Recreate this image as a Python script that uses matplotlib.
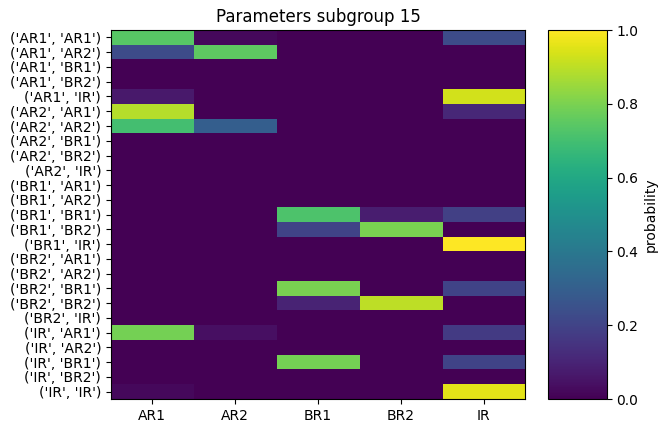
import matplotlib
matplotlib.use('Agg')
import matplotlib.pyplot as plt
import numpy as np

states = ['AR1', 'AR2', 'BR1', 'BR2', 'IR']
row_labels = [str((a, b)) for a in states for b in states]

# probability per row (pair of states) for each next state
AR1 = [0.74, 0.23, 0, 0, 0.07, 0.89, 0.70, 0, 0, 0,
       0, 0, 0, 0, 0, 0, 0, 0, 0, 0,
       0.79, 0, 0, 0, 0.02]
AR2 = [0.02, 0.75, 0, 0, 0, 0, 0.30, 0, 0, 0,
       0, 0, 0, 0, 0, 0, 0, 0, 0, 0,
       0.04, 0, 0, 0, 0]
BR1 = [0, 0, 0, 0, 0, 0, 0, 0, 0, 0,
       0, 0, 0.72, 0.20, 0, 0, 0, 0.80, 0.10, 0,
       0, 0, 0.79, 0, 0]
BR2 = [0, 0, 0, 0, 0, 0, 0, 0, 0, 0,
       0, 0, 0.08, 0.80, 0, 0, 0, 0, 0.90, 0,
       0, 0, 0, 0, 0]
IR = [0.23, 0, 0, 0, 0.93, 0.11, 0, 0, 0, 0,
      0, 0, 0.19, 0, 1.0, 0, 0, 0.20, 0, 0,
      0.17, 0, 0.20, 0, 0.96]

data = np.array([AR1, AR2, BR1, BR2, IR]).T

fig = plt.figure(figsize=(6.68, 4.33), dpi=100)
ax = fig.add_axes([0.166, 0.0785, 0.620, 0.852])
cax = fig.add_axes([0.820, 0.0785, 0.0883, 0.852])

im = ax.imshow(data, aspect='auto', cmap='viridis', vmin=0, vmax=1, interpolation='nearest')
ax.set_xticks(range(len(states)))
ax.set_xticklabels(states)
ax.set_yticks(range(len(row_labels)))
ax.set_yticklabels(row_labels)
ax.set_title('Parameters subgroup 15')

cb = fig.colorbar(im, cax=cax)
cb.set_label('probability')

plt.savefig('out.png', dpi=100)
